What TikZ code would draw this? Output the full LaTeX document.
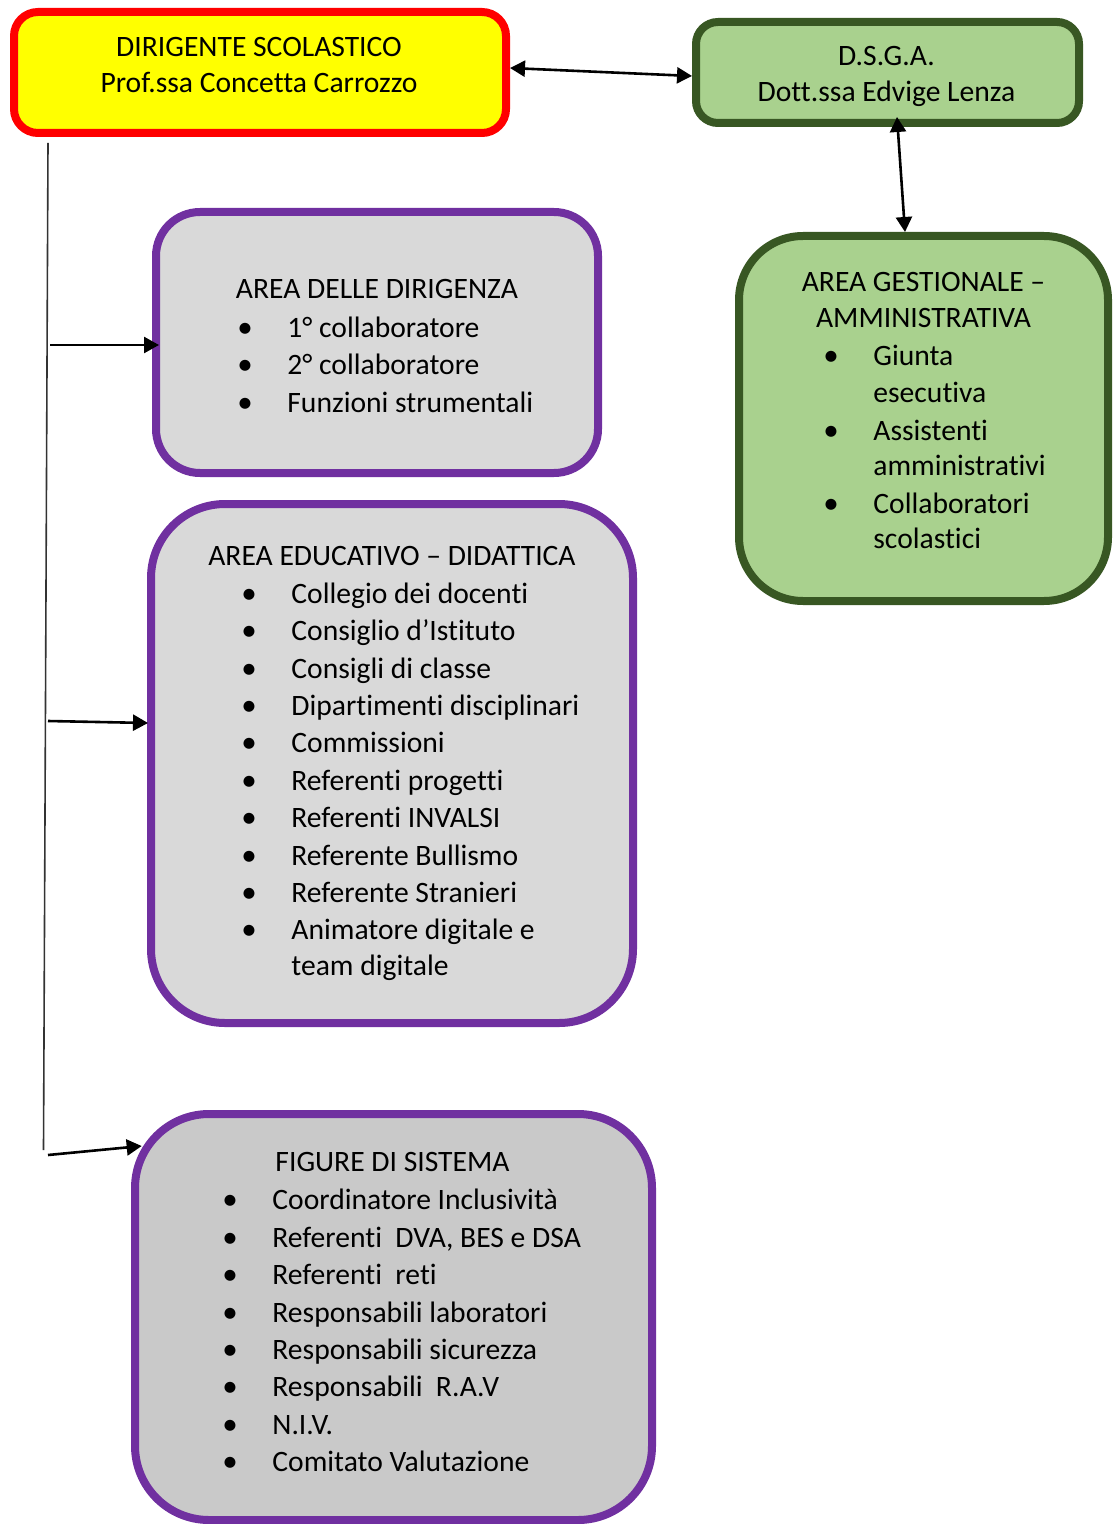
\documentclass[tikz,border=0pt]{standalone}
\usepackage{fontspec}
\setmainfont{Carlito}[Ligatures={NoCommon,NoContextual}]
\usetikzlibrary{arrows.meta,calc}
\definecolor{bred}{HTML}{FF0000}
\definecolor{byellow}{HTML}{FFFF00}
\definecolor{dkgreen}{HTML}{385723}
\definecolor{lgreen}{HTML}{A9D18E}
\definecolor{bpurple}{HTML}{7030A0}
\definecolor{greyA}{HTML}{D9D9D9}
\definecolor{greyB}{HTML}{C9C9C9}
\newcommand\li[4]{\node[bul] (#1b) at (#2-42,#3) {•}; \node[txt] (#1) at (#2,#3) {#4};}
\begin{document}
\begin{tikzpicture}[x=0.5pt,y=-0.5pt,
  box/.style={draw, rounded corners=#1, inner sep=0pt, line width=4pt},
  txt/.style={inner sep=0pt, font=\fontsize{14.8}{18}\selectfont, anchor=base west},
  ttl/.style={inner sep=0pt, font=\fontsize{14.8}{18}\selectfont, anchor=base},
  bul/.style={inner sep=0pt, font=\fontsize{15.5}{18}\selectfont, anchor=base},
  conn/.style={line width=1.3pt, -{Triangle[length=7.5pt,width=8pt]}},
  dconn/.style={line width=1.3pt, {Triangle[length=7.5pt,width=8pt]}-{Triangle[length=7.5pt,width=8pt]}},
  trunk/.style={line width=0.8pt, draw=black!80}]
\useasboundingbox (0,0) rectangle (1114,1524);
% boxes
\node[box=12pt, draw=bred, fill=byellow, minimum width=246pt, minimum height=60.5pt] (dir) at (260,72.5) {};
\node[box=11pt, draw=dkgreen, fill=lgreen, minimum width=191.5pt, minimum height=50.5pt] (dsga) at (887.5,72.5) {};
\node[box=22pt, draw=bpurple, fill=greyA, minimum width=221pt, minimum height=130.5pt] (dira) at (377,342.5) {};
\node[box=32pt, draw=dkgreen, fill=lgreen, minimum width=184.5pt, minimum height=182.5pt] (gest) at (923.5,418.5) {};
\node[box=37pt, draw=bpurple, fill=greyA, minimum width=241pt, minimum height=259.5pt] (edu) at (392,763.5) {};
\node[box=37pt, draw=bpurple, fill=greyB, minimum width=258.5pt, minimum height=203pt] (fig) at (393.5,1317) {};
% texts
\node[ttl] (dirt1) at (259,57) {DIRIGENTE SCOLASTICO};
\node[ttl] (dirt2) at (259,93) {Prof.ssa Concetta Carrozzo};
\node[ttl] (dsgat1) at (886.5,66) {D.S.G.A.};
\node[ttl] (dsgat2) at (886.5,102) {Dott.ssa Edvige Lenza};
\node[ttl] (dirat) at (377,299) {AREA DELLE DIRIGENZA};
\li{da1}{287}{337}{1° collaboratore}
\li{da2}{287}{374}{2° collaboratore}
\li{da3}{287}{412}{Funzioni strumentali}
\node[ttl] (gestt1) at (923.5,292) {AREA GESTIONALE –};
\node[ttl] (gestt2) at (923.5,328) {AMMINISTRATIVA};
\li{g1}{873}{365}{Giunta}
\node[txt] (g1x) at (873,402) {esecutiva};
\li{g2}{873}{440}{Assistenti}
\node[txt] (g2x) at (873,475) {amministrativi};
\li{g3}{873}{513}{Collaboratori}
\node[txt] (g3x) at (873,548) {scolastici};
\node[ttl] (edut) at (392,565) {AREA EDUCATIVO – DIDATTICA};
\li{e1}{291}{603}{Collegio dei docenti}
\li{e2}{291}{640}{Consiglio d’Istituto}
\li{e3}{291}{678}{Consigli di classe}
\li{e4}{291}{715}{Dipartimenti disciplinari}
\li{e5}{291}{752}{Commissioni}
\li{e6}{291}{790}{Referenti progetti}
\li{e7}{291}{827}{Referenti INVALSI}
\li{e8}{291}{865}{Referente Bullismo}
\li{e9}{291}{902}{Referente Stranieri}
\li{e10}{291}{939}{Animatore digitale e}
\node[txt] (e10x) at (291,975) {team digitale};
\node[ttl] (figt) at (392.5,1171) {FIGURE DI SISTEMA};
\li{f1}{272}{1209}{Coordinatore Inclusività}
\li{f2}{272}{1247}{Referenti\ \ DVA, BES e DSA}
\li{f3}{272}{1284}{Referenti\ \ reti}
\li{f4}{272}{1322}{Responsabili laboratori}
\li{f5}{272}{1359}{Responsabili sicurezza}
\li{f6}{272}{1396}{Responsabili\ \ R.A.V}
\li{f7}{272}{1434}{N.I.V.}
\li{f8}{272}{1471}{Comitato Valutazione}
% connectors
\coordinate (trtop) at (48,143);
\coordinate (trbot) at (43.5,1150);
\draw[trunk] (trtop) -- (trbot);
\coordinate (s1) at (50,345);
\coordinate (s2) at (48,721);
\coordinate (s3) at (48,1155);
\draw[conn] (s1) -- ($(dira.west)+(7,2.5)$);
\draw[conn] (s2) -- ($(edu.west)+(1,-40.5)$);
\draw[conn] (s3) -- ($(fig.north west)+(10.7,36)$);
\draw[dconn] ($(dir.east)+(0,-4.5)$) -- ($(dsga.west)+(0,3.5)$);
\draw[dconn] ($(dsga.south)+(9.5,-10)$) -- ($(gest.north)+(-18.5,0)$);
\end{tikzpicture}
\end{document}
